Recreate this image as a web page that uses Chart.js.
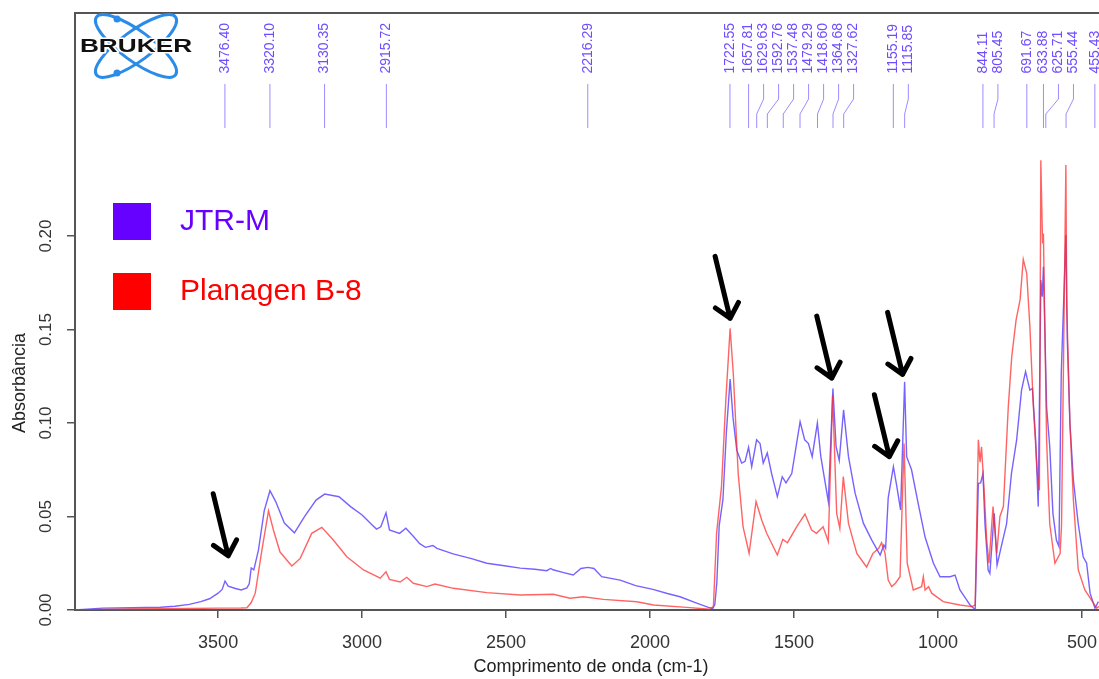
<!DOCTYPE html>
<html>
<head>
<meta charset="utf-8">
<script src="https://cdn.jsdelivr.net/npm/chart.js@4.4.1/dist/chart.umd.min.js"></script>
<style>
  html, body { margin: 0; padding: 0; background: #fff; }
  #wrap { width: 1099px; height: 679px; }
</style>
</head>
<body>
<div id="wrap"><canvas id="spectrum" width="1099" height="679"></canvas></div>
<script>
// JTR-M (curva azul/roxa) - numero de onda e absorbancia
const jtrWavenumber = [3997, 3900, 3800, 3700, 3650, 3600, 3560, 3530, 3500, 3486, 3476, 3465, 3440, 3420, 3400, 3392, 3385, 3376, 3360, 3340,
  3320, 3300, 3270, 3235, 3200, 3160, 3130, 3080, 3040, 3000, 2965, 2950, 2935, 2917, 2905, 2870, 2848, 2820, 2800, 2780,
  2754, 2740, 2684, 2620, 2567, 2500, 2451, 2400, 2359, 2345, 2337, 2300, 2267, 2240, 2216, 2195, 2168, 2104, 2050, 1990,
  1940, 1896, 1838, 1800, 1782, 1775, 1768, 1760, 1747, 1735, 1722, 1712, 1699, 1682, 1670, 1658, 1647, 1630, 1618, 1607,
  1593, 1578, 1558, 1541, 1528, 1508, 1479, 1463, 1450, 1437, 1419, 1407, 1381, 1365, 1354, 1343, 1328, 1311, 1288, 1259,
  1230, 1201, 1188, 1182, 1173, 1155, 1143, 1130, 1116, 1109, 1092, 1069, 1045, 1016, 993, 958, 941, 924, 900, 889,
  876, 871, 860, 852, 844, 837, 826, 820, 805, 795, 779, 762, 745, 727, 710, 696, 681, 672, 661, 652,
  643, 638, 634, 623, 612, 601, 589, 580, 572, 556, 551, 542, 530, 513, 496, 484, 472, 455, 443];
const jtrAbsorbance = [0.000, 0.001, 0.0012, 0.0015, 0.002, 0.003, 0.0045, 0.006, 0.009, 0.011, 0.0155, 0.0128, 0.0115, 0.0107, 0.0118, 0.014, 0.0225, 0.0215, 0.032, 0.053,
  0.0638, 0.058, 0.0465, 0.0413, 0.050, 0.0588, 0.062, 0.0606, 0.0553, 0.0508, 0.0455, 0.0433, 0.0445, 0.052, 0.0428, 0.041, 0.0437, 0.039, 0.0355, 0.0335,
  0.0345, 0.033, 0.030, 0.0275, 0.025, 0.0235, 0.0224, 0.0218, 0.021, 0.0222, 0.0215, 0.020, 0.0187, 0.0222, 0.0228, 0.0222, 0.0178, 0.016, 0.013, 0.011,
  0.0088, 0.0071, 0.0037, 0.0015, 0.0008, 0.003, 0.015, 0.045, 0.059, 0.095, 0.1235, 0.103, 0.0855, 0.0786, 0.0795, 0.087, 0.0767, 0.091, 0.089, 0.0786,
  0.084, 0.073, 0.0606, 0.0713, 0.068, 0.073, 0.1007, 0.091, 0.089, 0.082, 0.100, 0.082, 0.058, 0.1185, 0.0874, 0.080, 0.107, 0.082, 0.0625, 0.0463,
  0.0374, 0.0294, 0.0348, 0.033, 0.060, 0.0767, 0.066, 0.0535, 0.122, 0.082, 0.075, 0.057, 0.039, 0.025, 0.0178, 0.0178, 0.0187, 0.0107, 0.0053, 0.0027,
  0.001, 0.000, 0.0677, 0.068, 0.073, 0.046, 0.0214, 0.0196, 0.0517, 0.024, 0.0348, 0.046, 0.073, 0.091, 0.1176, 0.1275, 0.1176, 0.1185, 0.091, 0.0553,
  0.1765, 0.1676, 0.1836, 0.1087, 0.0873, 0.0517, 0.0374, 0.034, 0.127, 0.2005, 0.144, 0.100, 0.0695, 0.046, 0.0285, 0.025, 0.009, 0.001, 0.0045];

// Planagen B-8 (curva vermelha)
const planWavenumber = [3997, 3800, 3600, 3500, 3420, 3400, 3385, 3371, 3348, 3325, 3308, 3285, 3244, 3215, 3175, 3140, 3100, 3053, 2995, 2937,
  2917, 2905, 2868, 2845, 2822, 2775, 2747, 2683, 2567, 2451, 2336, 2278, 2232, 2162, 2046, 1988, 1873, 1792, 1780, 1769,
  1752, 1737, 1722, 1711, 1694, 1677, 1656, 1632, 1612, 1595, 1558, 1539, 1523, 1491, 1462, 1439, 1422, 1399, 1381, 1366,
  1352, 1341, 1329, 1311, 1282, 1248, 1226, 1206, 1196, 1184, 1173, 1161, 1148, 1132, 1118, 1107, 1086, 1057, 1051, 1045,
  1033, 1022, 982, 924, 883, 871, 860, 854, 849, 840, 831, 823, 809, 796, 785, 773, 756, 744, 729, 715,
  704, 692, 681, 669, 655, 648, 643, 637, 634, 623, 612, 594, 576, 571, 556, 553, 542, 530, 513, 490,
  467, 449, 441];
const planAbsorbance = [0.000, 0.0005, 0.0008, 0.001, 0.0011, 0.0012, 0.004, 0.009, 0.032, 0.053, 0.0428, 0.031, 0.0235, 0.0276, 0.041, 0.0442, 0.0374, 0.0285, 0.0214, 0.017,
  0.0205, 0.0164, 0.015, 0.0175, 0.0143, 0.0125, 0.0139, 0.0116, 0.0093, 0.008, 0.0084, 0.0063, 0.0071, 0.0057, 0.0044, 0.0027, 0.0014, 0.0004, 0.002, 0.041,
  0.066, 0.112, 0.1506, 0.1266, 0.073, 0.0445, 0.0303, 0.058, 0.048, 0.041, 0.0294, 0.0378, 0.036, 0.0445, 0.0513, 0.0428, 0.041, 0.0445, 0.0365, 0.115,
  0.0517, 0.0437, 0.0713, 0.0463, 0.0303, 0.023, 0.0303, 0.033, 0.036, 0.0303, 0.016, 0.0125, 0.0143, 0.0178, 0.089, 0.025, 0.0107, 0.0125, 0.0178, 0.0107,
  0.0125, 0.009, 0.0045, 0.0027, 0.0018, 0.0027, 0.091, 0.079, 0.0873, 0.064, 0.0374, 0.025, 0.0553, 0.0303, 0.050, 0.0553, 0.1087, 0.1355, 0.155, 0.166,
  0.1875, 0.180, 0.1515, 0.1087, 0.073, 0.064, 0.2406, 0.196, 0.2014, 0.091, 0.046, 0.025, 0.0303, 0.046, 0.238, 0.162, 0.100, 0.059, 0.0214, 0.0107,
  0.0053, 0.001, 0.002];

// picos marcados no topo
const peakLabels = ['3476.40', '3320.10', '3130.35', '2915.72', '2216.29', '1722.55', '1657.81', '1629.63', '1592.76', '1537.48',
  '1479.29', '1418.60', '1364.68', '1327.62', '1155.19', '1115.85', '844.11', '805.45', '691.67', '633.88', '625.71', '555.44', '455.43'];

// setas (ponta em numero de onda / absorbancia)
const arrowTips = [[3465, 0.029], [1722, 0.156], [1369, 0.124], [1123, 0.126], [1169, 0.082]];

const xTicks = [3500, 3000, 2500, 2000, 1500, 1000, 500];
const yTicks = [0.00, 0.05, 0.10, 0.15, 0.20];

const seriesNames = ['JTR-M', 'Planagen B-8'];
const seriesColors = ['#6600ff', '#ff0000'];

const FONT = '"Liberation Sans", Arial, Helvetica, sans-serif';

function pairs(xs, ys) {
  return xs.map((x, i) => ({ x: x, y: ys[i] }));
}

function drawArrow(ctx, tx, ty) {
  const dx = -15, dy = -62;
  const len = Math.hypot(dx, dy);
  const ux = dx / len, uy = dy / len;
  const arm = 18, ang = 0.72;
  ctx.beginPath();
  ctx.moveTo(tx + dx, ty + dy);
  ctx.lineTo(tx, ty);
  for (const s of [-1, 1]) {
    const c = Math.cos(s * ang), sn = Math.sin(s * ang);
    const ax = ux * c - uy * sn, ay = ux * sn + uy * c;
    ctx.moveTo(tx + ax * arm, ty + ay * arm);
    ctx.lineTo(tx, ty);
  }
  ctx.stroke();
}

function drawLogo(ctx) {
  const cx = 136, cy = 46;
  ctx.save();
  ctx.strokeStyle = '#2a8be8';
  ctx.fillStyle = '#2a8be8';
  ctx.lineWidth = 3;
  for (const r of [0.63, -0.63]) {
    ctx.beginPath();
    ctx.ellipse(cx, cy, 49, 15, r, 0, Math.PI * 2);
    ctx.stroke();
  }
  ctx.beginPath(); ctx.arc(cx - 19, cy - 27, 3.5, 0, Math.PI * 2); ctx.fill();
  ctx.beginPath(); ctx.arc(cx - 19, cy + 27, 3.5, 0, Math.PI * 2); ctx.fill();
  ctx.translate(cx, cy + 1);
  ctx.scale(1.38, 1);
  ctx.font = 'bold 19px ' + FONT;
  ctx.textAlign = 'center';
  ctx.textBaseline = 'middle';
  ctx.lineWidth = 3;
  ctx.strokeStyle = '#fff';
  ctx.strokeText('BRUKER', 0, 0);
  ctx.fillStyle = '#111';
  ctx.fillText('BRUKER', 0, 0);
  ctx.restore();
}

const decorations = {
  id: 'decorations',
  afterDraw(chart) {
    const { ctx, chartArea: a, scales } = chart;
    const x = scales.x, y = scales.y;
    ctx.save();

    // moldura superior
    ctx.strokeStyle = '#555';
    ctx.lineWidth = 2;
    ctx.beginPath();
    ctx.moveTo(a.left - 1, a.top);
    ctx.lineTo(chart.width, a.top);
    ctx.stroke();

    // rotulos do eixo y (verticais)
    ctx.fillStyle = '#333';
    ctx.font = '17px ' + FONT;
    ctx.textAlign = 'center';
    ctx.textBaseline = 'middle';
    yTicks.forEach(v => {
      ctx.save();
      ctx.translate(46, y.getPixelForValue(v));
      ctx.rotate(-Math.PI / 2);
      ctx.fillText(v.toFixed(2), 0, 0);
      ctx.restore();
    });

    // titulos dos eixos
    ctx.font = '18px ' + FONT;
    ctx.fillStyle = '#222';
    ctx.save();
    ctx.translate(20, 383);
    ctx.rotate(-Math.PI / 2);
    ctx.fillText('Absorbância', 0, 0);
    ctx.restore();
    ctx.fillText('Comprimento de onda (cm-1)', 591, 667);

    // legenda
    ctx.font = '30px ' + FONT;
    ctx.textAlign = 'left';
    seriesNames.forEach((name, i) => {
      const top = 203 + i * 70;
      ctx.fillStyle = seriesColors[i];
      ctx.fillRect(113, top, 38, 37);
      ctx.fillText(name, 180, top + 19);
    });

    // picos no topo
    let prev = -Infinity;
    ctx.font = '14px ' + FONT;
    ctx.textAlign = 'left';
    ctx.textBaseline = 'middle';
    peakLabels.forEach(lbl => {
      const px = x.getPixelForValue(parseFloat(lbl));
      const lx = Math.max(px, prev + 15);
      prev = lx;
      ctx.strokeStyle = '#a08aff';
      ctx.lineWidth = 1;
      ctx.beginPath();
      if (Math.abs(lx - px) < 0.5) {
        ctx.moveTo(px, 84);
        ctx.lineTo(px, 128);
      } else {
        ctx.moveTo(lx, 84);
        ctx.lineTo(lx, 99);
        ctx.lineTo(px, 114);
        ctx.lineTo(px, 128);
      }
      ctx.stroke();
      ctx.save();
      ctx.translate(lx, 73.5);
      ctx.rotate(-Math.PI / 2);
      ctx.fillStyle = '#6f4cff';
      ctx.fillText(lbl, 0, 0);
      ctx.restore();
    });

    // setas
    ctx.strokeStyle = '#000';
    ctx.lineWidth = 5;
    ctx.lineCap = 'round';
    ctx.lineJoin = 'round';
    arrowTips.forEach(([wn, ab]) => drawArrow(ctx, x.getPixelForValue(wn), y.getPixelForValue(ab)));

    drawLogo(ctx);
    ctx.restore();
  }
};

new Chart(document.getElementById('spectrum'), {
  type: 'line',
  data: {
    datasets: [
      {
        label: seriesNames[1],
        data: pairs(planWavenumber, planAbsorbance),
        borderColor: 'rgba(255, 40, 40, 0.72)',
        borderWidth: 1.4,
        pointRadius: 0,
        tension: 0
      },
      {
        label: seriesNames[0],
        data: pairs(jtrWavenumber, jtrAbsorbance),
        borderColor: 'rgba(80, 55, 255, 0.78)',
        borderWidth: 1.4,
        pointRadius: 0,
        tension: 0
      }
    ]
  },
  options: {
    responsive: false,
    animation: false,
    layout: { padding: { top: 13, left: 0, right: 0, bottom: 0 } },
    plugins: { legend: { display: false }, tooltip: { enabled: false } },
    scales: {
      x: {
        type: 'linear',
        reverse: true,
        min: 441,
        max: 3997,
        afterBuildTicks: s => { s.ticks = xTicks.map(v => ({ value: v })); },
        afterFit: s => { s.height = 69; s.paddingLeft = 0; s.paddingRight = 0; },
        grid: { drawOnChartArea: false, tickLength: 8, color: '#555', lineWidth: 1.5 },
        border: { color: '#555', width: 2 },
        ticks: {
          font: { family: FONT, size: 18 },
          color: '#333',
          padding: 14,
          maxRotation: 0,
          autoSkip: false,
          callback: v => String(v)
        }
      },
      y: {
        min: 0,
        max: 0.3193,
        afterBuildTicks: s => { s.ticks = yTicks.map(v => ({ value: v })); },
        afterFit: s => { s.width = 75; s.paddingTop = 0; s.paddingBottom = 0; },
        grid: { drawOnChartArea: false, tickLength: 8, color: '#555', lineWidth: 1.5 },
        border: { color: '#555', width: 2 },
        ticks: { display: false }
      }
    }
  },
  plugins: [decorations]
});
</script>
</body>
</html>
